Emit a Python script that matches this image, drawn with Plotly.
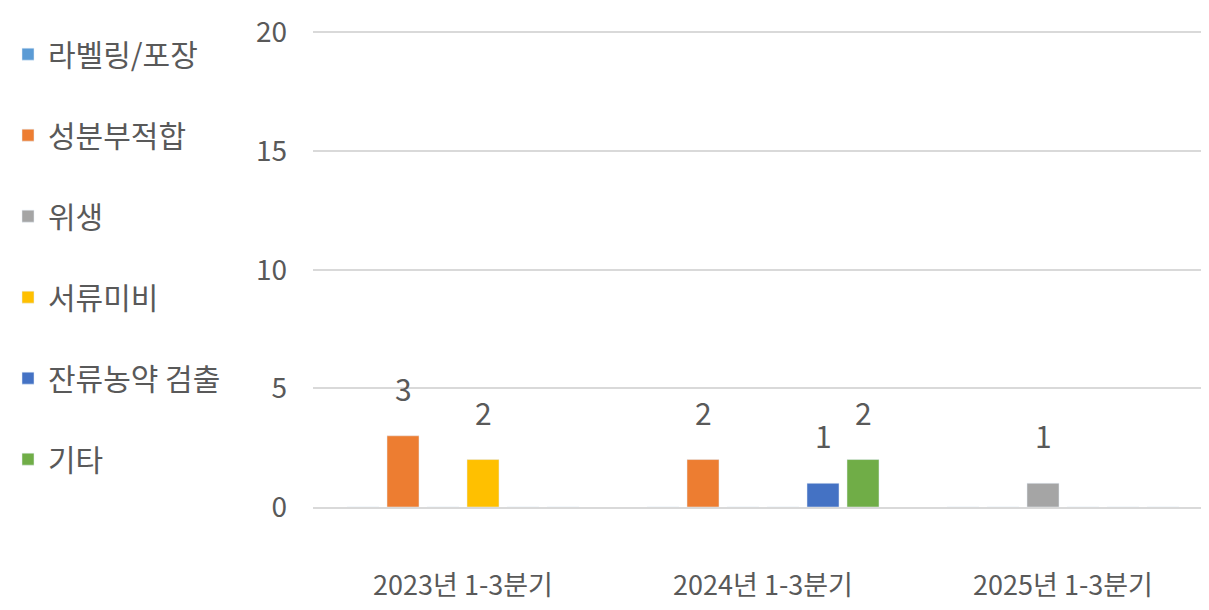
import plotly.graph_objects as go

categories = ["2023년 1-3분기", "2024년 1-3분기", "2025년 1-3분기"]
series_names = ["라벨링/포장", "성분부적합", "위생", "서류미비", "잔류농약 검출", "기타"]
labeling = [0, 0, 0]
ingredient = [3, 2, 0]
hygiene = [0, 0, 1]
documents = [2, 0, 0]
pesticide = [0, 1, 0]
other = [0, 2, 0]
colors = ["#5B9BD5", "#ED7D31", "#A5A5A5", "#FFC000", "#4472C4", "#70AD47"]
y_ticks = [0, 5, 10, 15, 20]

all_values = [labeling, ingredient, hygiene, documents, pesticide, other]
FONT = "Noto Sans CJK KR"
TXT = "#595959"

fig = go.Figure()
for i, (name, vals, col) in enumerate(zip(series_names, all_values, colors)):
    fig.add_trace(go.Bar(
        x=categories, y=vals, name=name, marker_color=col,
        legendgroup=f"g{i}",
    ))

# data labels for non-zero values
slot = 40
n = len(series_names)
for i, vals in enumerate(all_values):
    for c, v in zip(categories, vals):
        if v:
            fig.add_annotation(
                x=c, y=v, text=str(v), showarrow=False,
                xshift=(i - (n - 1) / 2) * slot, yshift=48,
                yanchor="middle",
                font=dict(family=FONT, size=30, color=TXT),
            )

fig.update_layout(
    width=1209, height=610,
    margin=dict(l=305, r=4, t=22, b=111, autoexpand=False),
    plot_bgcolor="white", paper_bgcolor="white",
    barmode="group", bargap=0.2, bargroupgap=0.2,
    font=dict(family=FONT, color=TXT),
    legend=dict(
        x=0.0, xref="container", y=0.967, yref="container",
        xanchor="left", yanchor="top",
        font=dict(family=FONT, size=30, color=TXT),
        tracegroupgap=39, itemwidth=30, maxheight=600,
    ),
    showlegend=True,
)
fig.update_yaxes(
    range=[0, 20.1], tickvals=y_ticks, showgrid=True, gridcolor="#D9D9D9",
    gridwidth=2, zeroline=False, showline=False, automargin=False,
    tickfont=dict(family=FONT, size=28, color=TXT), ticklabelstandoff=25,
)
fig.update_xaxes(
    showline=True, linecolor="#D9D9D9", linewidth=2, automargin=False,
    tickfont=dict(family=FONT, size=27, color=TXT), ticklabelstandoff=54,
)

fig.write_html("out.html")
